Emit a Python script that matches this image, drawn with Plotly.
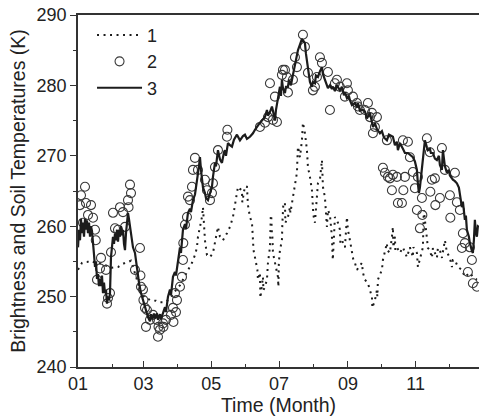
import plotly.graph_objects as go

# Day of year (0 = 1 January) and temperatures in K
day_1 = [0, 1.8, 3.6, 5.4, 8.1, 10.8, 13.5, 16.2, 18.9, 21.6, 24.3, 27.0, 30.6, 33.3, 36.0,
         38.7, 42.3, 45.0, 47.7, 53.1, 56.7, 60.3, 63.0, 64.8, 67.5, 70.2, 72.9, 75.6, 78.3,
         81.0, 83.7, 86.4, 89.1, 91.8, 94.5, 97.2, 99.0, 100.8, 102.6, 105.3, 107.1, 108.0,
         109.8, 111.6, 112.5, 114.3, 116.1, 118.8, 121.5, 123.3, 125.1, 126.0, 127.8, 130.5,
         134.1, 136.8, 139.5, 141.3, 143.1, 144.0, 145.8, 147.6, 147.9, 150.3, 152.1, 153.0,
         154.8, 156.6, 157.0, 157.5, 158.0, 159.3, 161.1, 161.5, 162.0, 163.8, 164.2, 165.6,
         166.5, 166.9, 168.3, 170.1, 171.0, 172.8, 173.2, 173.6, 174.0, 174.6, 175.0, 175.5,
         177.3, 179.1, 180.0, 180.4, 180.8, 181.8, 183.6, 184.0, 184.5, 184.9, 186.3, 186.7,
         189.0, 190.8, 191.2, 193.5, 195.3, 197.1, 197.5, 198.0, 199.8, 201.6, 202.5, 204.3,
         206.1, 207.0, 208.8, 210.6, 211.5, 211.9, 213.3, 215.1, 216.0, 217.8, 219.6, 220.5,
         222.3, 224.1, 225.0, 226.8, 228.6, 229.0, 229.4, 231.3, 234.0, 235.8, 236.2, 237.6,
         240.3, 242.1, 243.0, 244.8, 246.6, 247.5, 247.9, 249.3, 251.1, 255.6, 256.5, 258.3,
         261.0, 262.8, 264.6, 265.0, 267.3, 269.1, 269.5, 270.0, 273.6, 274.5, 276.3, 278.1,
         278.5, 280.8, 282.6, 283.5, 283.9, 285.3, 285.7, 287.1, 289.8, 292.5, 296.1, 298.8,
         301.5, 301.9, 305.1, 305.5, 306.0, 310.5, 310.9, 311.3, 314.1, 315.0, 316.8, 318.6,
         319.5, 323.1, 324.0, 325.8, 327.6, 330.3, 332.1, 334.8, 336.6, 337.5, 339.3, 342.0,
         345.6, 348.3, 352.8, 355.5, 359.1]
temp_1 = [253.8, 254.4, 254.8, 254.9, 254.9, 255.1, 254.9, 254.8, 254.8, 254.6, 254.5, 254.3,
          254.1, 254.1, 254.2, 254.5, 254.8, 254.9, 255.1, 252.4, 250.5, 249.8, 249.7, 249.5,
          249.5, 249.4, 249.2, 249.2, 249.2, 249.5, 249.9, 250.5, 251.2, 251.6, 252.4, 253.1,
          253.8, 254.3, 254.8, 255.9, 257.0, 258.5, 259.9, 261.3, 262.7, 258.0, 255.9, 255.6,
          256.2, 257.6, 259.0, 259.9, 258.5, 258.0, 259.0, 259.9, 261.3, 263.3, 265.1, 265.6,
          265.3, 265.1, 263.4, 265.7, 265.6, 263.0, 261.3, 260.5, 259.5, 257.6, 256.6, 255.6,
          254.2, 253.8, 252.4, 253.4, 249.8, 251.9, 252.8, 250.9, 251.4, 252.4, 254.8, 257.0,
          259.0, 261.6, 261.3, 258.8, 258.5, 256.2, 254.8, 253.8, 252.8, 251.4, 254.8, 256.6,
          258.0, 260.5, 261.9, 263.3, 263.3, 260.5, 261.3, 262.7, 261.9, 264.1, 266.1, 267.6,
          269.4, 271.3, 269.8, 272.2, 274.7, 273.2, 270.8, 268.4, 267.0, 265.1, 262.7, 261.6,
          260.5, 264.1, 266.1, 266.6, 269.4, 265.6, 264.1, 259.9, 262.3, 261.6, 258.5, 256.6,
          255.2, 261.3, 260.5, 259.5, 257.6, 258.0, 257.0, 261.3, 259.5, 258.0, 256.6, 255.6,
          255.2, 254.8, 253.8, 254.8, 253.4, 252.4, 251.9, 250.9, 250.0, 248.4, 249.5, 250.9,
          250.0, 252.4, 253.8, 255.2, 256.6, 257.6, 256.6, 256.2, 258.5, 259.9, 257.0, 258.5,
          256.6, 257.0, 256.2, 257.0, 255.6, 257.0, 255.6, 257.0, 256.2, 254.8, 254.2, 257.0,
          260.9, 262.3, 258.3, 256.9, 256.6, 255.5, 256.9, 255.5, 256.9, 256.6, 255.5, 258.0,
          256.3, 255.5, 254.2, 255.2, 255.2, 254.2, 253.8, 252.8, 253.4, 252.8, 252.4]

day_2 = [1.8, 2.7, 4.5, 6.3, 7.2, 9.0, 11.7, 13.5, 15.3, 16.0, 17.1, 19.8, 20.7, 25.2, 26.1,
         27.0, 28.8, 29.7, 31.5, 33.3, 36.0, 37.8, 40.5, 42.3, 45.0, 45.5, 46.8, 47.7, 51.3,
         55.8, 56.2, 56.7, 58.5, 58.9, 60.3, 61.2, 62.1, 64.8, 67.5, 71.1, 72.0, 72.5, 73.8,
         76.5, 76.9, 79.2, 83.7, 85.5, 85.9, 87.3, 88.2, 89.1, 91.8, 93.6, 94.5, 94.8, 96.3,
         98.1, 99.0, 100.8, 102.6, 103.5, 105.3, 108.0, 114.3, 116.1, 118.8, 120.6, 121.5,
         123.3, 126.0, 134.1, 134.5, 163.8, 168.3, 171.0, 172.8, 175.5, 177.3, 179.1, 183.6,
         184.5, 186.3, 188.1, 189.0, 193.5, 195.3, 197.1, 202.5, 204.3, 207.0, 211.5, 213.3,
         215.1, 217.8, 219.6, 225.0, 226.8, 231.3, 233.1, 235.8, 240.3, 242.1, 243.0, 247.5,
         251.1, 252.0, 253.8, 258.3, 261.0, 262.8, 264.6, 265.5, 267.3, 269.1, 278.1, 292.5,
         297.0, 298.8, 301.5, 314.1, 316.8, 327.6, 330.3, 339.3, 274.5, 276.3, 279.0, 280.8,
         282.6, 283.5, 287.1, 288.0, 291.6, 292.9, 294.3, 303.3, 305.1, 306.0, 307.8, 309.6,
         310.0, 317.2, 318.6, 321.3, 321.7, 325.8, 334.8, 335.2, 341.1, 343.8, 345.6, 346.5,
         348.3, 351.0, 352.8, 354.6, 355.5, 359.1]
temp_2 = [263.0, 264.4, 260.5, 265.6, 263.3, 261.6, 263.0, 261.2, 259.5, 258.0, 252.4, 254.0,
          255.5, 253.8, 249.0, 249.8, 250.5, 256.3, 261.9, 259.7, 259.5, 262.7, 262.0, 259.9,
          263.7, 262.7, 265.9, 264.7, 253.8, 256.9, 253.0, 251.4, 251.0, 249.5, 248.4, 245.7,
          248.1, 246.7, 247.4, 246.7, 244.3, 245.7, 245.3, 246.2, 245.7, 246.7, 247.4, 248.4,
          246.4, 250.5, 247.8, 249.5, 251.4, 252.8, 255.2, 257.6, 260.2, 261.3, 264.2, 263.7,
          265.6, 268.0, 269.7, 268.0, 266.6, 265.1, 263.7, 264.7, 266.1, 268.4, 270.8, 272.7,
          273.7, 274.1, 274.7, 275.5, 280.3, 275.1, 278.4, 274.8, 281.5, 282.2, 282.2, 281.2,
          279.0, 280.8, 284.0, 282.6, 287.2, 285.5, 281.8, 279.3, 279.8, 281.2, 284.0, 283.2,
          281.9, 276.5, 280.3, 280.8, 279.8, 278.4, 280.3, 279.3, 278.4, 277.5, 277.0, 276.5,
          276.5, 277.5, 275.5, 276.1, 273.2, 274.1, 275.5, 272.2, 272.2, 272.0, 269.8, 267.7,
          272.5, 270.5, 271.1, 268.0, 267.6, 268.3, 267.6, 267.0, 266.8, 265.1, 267.3, 267.0,
          263.3, 263.3, 265.1, 267.0, 265.4, 262.3, 267.0, 259.7, 264.0, 261.6, 264.9, 266.6,
          266.8, 263.0, 264.0, 264.4, 261.2, 263.4, 262.3, 256.9, 259.0, 257.6, 253.5, 257.0,
          255.2, 251.9, 251.4]

day_3 = [0, 0.9, 1.8, 2.7, 3.6, 4.5, 5.4, 6.3, 7.2, 8.1, 9.0, 9.9, 10.8, 11.7, 12.6, 13.5,
         14.4, 15.3, 16.2, 17.1, 18.0, 18.9, 19.8, 20.7, 21.6, 22.5, 23.4, 24.3, 25.2, 26.1,
         27.0, 27.9, 28.8, 29.7, 30.6, 31.5, 32.4, 33.3, 34.2, 35.1, 36.0, 36.9, 37.8, 38.7,
         39.6, 40.5, 41.4, 42.3, 43.2, 44.1, 45.0, 45.9, 46.8, 47.7, 49.5, 51.3, 52.2, 54.0,
         54.9, 56.7, 58.5, 60.3, 62.1, 63.0, 64.8, 65.7, 66.6, 68.4, 69.3, 71.1, 72.0, 73.8,
         74.7, 76.5, 78.3, 79.2, 81.0, 82.8, 83.7, 85.5, 87.3, 88.2, 90.0, 91.8, 92.7, 94.5,
         96.3, 97.2, 99.0, 100.8, 101.7, 103.5, 105.3, 107.1, 108.0, 108.9, 109.8, 110.7,
         111.6, 112.5, 114.3, 115.2, 117.0, 118.8, 120.6, 121.5, 123.3, 124.2, 126.0, 127.8,
         129.6, 131.4, 132.3, 133.2, 135.0, 136.8, 138.6, 140.4, 143.1, 145.8, 148.5, 150.3,
         152.1, 154.8, 157.5, 159.3, 162.0, 163.8, 165.6, 168.3, 170.1, 171.0, 172.8, 174.6,
         175.5, 177.3, 178.2, 180.0, 181.8, 182.7, 183.6, 184.5, 186.3, 187.2, 189.0, 189.9,
         191.7, 193.5, 195.3, 197.1, 198.0, 199.8, 201.6, 203.4, 204.3, 205.2, 206.1, 207.9,
         208.8, 210.6, 211.5, 213.3, 214.2, 216.0, 217.8, 219.6, 220.5, 222.3, 224.1, 225.0,
         226.8, 228.6, 229.5, 231.3, 233.1, 234.0, 235.8, 237.6, 239.4, 240.3, 242.1, 243.9,
         244.8, 246.6, 249.3, 251.1, 252.0, 253.8, 256.5, 258.3, 260.1, 262.8, 264.6, 265.5,
         267.3, 269.1, 271.8, 273.6, 275.4, 278.1, 279.9, 281.7, 283.5, 285.3, 287.1, 288.0,
         289.8, 292.5, 294.3, 297.0, 298.8, 301.5, 303.3, 305.1, 306.0, 306.9, 307.8, 308.7,
         309.6, 311.4, 312.3, 314.1, 315.0, 316.8, 317.7, 319.5, 321.3, 323.1, 324.9, 325.8,
         327.6, 328.5, 330.3, 332.1, 333.9, 334.8, 336.6, 337.5, 339.3, 341.1, 342.9, 343.8,
         345.6, 346.5, 348.3, 349.2, 350.1, 351.9, 352.8, 354.6, 355.5, 356.4, 357.3, 358.2,
         359.1, 360.0, 360.9]
temp_3 = [257.0, 259.5, 258.0, 261.0, 259.0, 260.5, 258.5, 261.0, 259.5, 260.8, 259.0, 260.5,
          258.5, 260.0, 259.3, 258.0, 256.0, 254.2, 255.0, 252.5, 253.2, 251.5, 252.5, 251.5,
          253.0, 250.5, 252.0, 250.5, 251.0, 249.0, 250.0, 249.5, 250.5, 255.6, 257.0, 258.5,
          257.5, 259.0, 258.0, 259.5, 257.8, 259.5, 258.5, 260.0, 258.7, 259.5, 257.5, 256.6,
          259.0, 260.5, 261.9, 261.0, 260.0, 258.5, 257.0, 256.2, 255.0, 253.4, 252.0, 250.5,
          249.5, 248.5, 247.5, 247.1, 246.5, 247.5, 246.8, 247.6, 246.9, 247.6, 246.7, 247.5,
          246.8, 247.7, 248.5, 247.8, 250.0, 251.0, 250.2, 252.8, 253.5, 253.0, 255.2, 257.0,
          256.2, 259.5, 260.3, 259.6, 261.9, 262.5, 262.0, 263.7, 264.5, 266.1, 267.5, 268.5,
          269.8, 268.0, 266.6, 265.5, 264.7, 264.0, 263.7, 264.5, 265.6, 267.0, 269.0, 268.5,
          270.8, 269.5, 269.0, 270.5, 270.8, 270.0, 271.8, 271.5, 271.3, 272.3, 273.0, 272.2,
          272.8, 273.0, 272.4, 272.7, 273.2, 273.7, 274.4, 274.7, 275.0, 275.5, 276.5, 275.7,
          276.2, 277.0, 276.4, 275.0, 276.5, 277.9, 279.8, 278.5, 280.8, 279.6, 278.9, 279.8,
          279.8, 280.8, 280.0, 281.5, 283.0, 284.0, 285.0, 285.8, 286.6, 286.2, 286.0, 284.5,
          283.2, 281.5, 280.5, 279.8, 280.5, 280.3, 281.4, 281.2, 282.0, 282.6, 281.6, 280.8,
          280.3, 279.6, 280.0, 279.5, 279.8, 279.2, 280.0, 279.8, 279.3, 279.8, 278.6, 279.0,
          278.2, 278.5, 277.9, 277.2, 277.5, 276.9, 277.5, 276.4, 276.5, 276.3, 275.3, 276.1,
          275.0, 274.1, 274.6, 273.8, 273.2, 273.5, 272.6, 272.2, 273.0, 272.8, 272.7, 271.5,
          272.0, 270.8, 271.8, 271.0, 270.4, 270.4, 270.1, 269.8, 269.2, 268.0, 266.0, 264.7,
          265.5, 267.0, 268.0, 271.0, 272.2, 271.2, 270.8, 271.0, 270.4, 270.4, 269.6, 269.4,
          270.0, 268.7, 268.0, 270.8, 268.5, 267.6, 268.0, 267.2, 266.8, 266.6, 266.4, 266.1,
          265.5, 264.7, 262.7, 263.5, 260.9, 261.5, 259.5, 258.5, 257.6, 256.5, 256.2, 258.0,
          260.9, 259.0, 258.5, 260.0, 259.9]

month_tick_days = [0, 59, 120, 181, 243, 304]
month_tick_text = ["01", "03", "05", "07", "09", "11"]
minor_tick_days = [31, 90, 151, 212, 273, 334]

INK = "#1c1c1c"
FONT = "Liberation Sans, Arial, sans-serif"

fig = go.Figure()
fig.add_trace(go.Scatter(
    x=day_1, y=temp_1, mode="lines", name="1",
    line=dict(color=INK, width=2, dash="2px,4.5px"),
))
fig.add_trace(go.Scatter(
    x=day_2, y=temp_2, mode="markers", name="2",
    marker=dict(symbol="circle-open", size=9, color="#3a3a3a", line=dict(width=1.1, color="#3a3a3a")),
))
fig.add_trace(go.Scatter(
    x=day_3, y=temp_3, mode="lines", name="3",
    line=dict(color=INK, width=2.2),
))

fig.update_layout(
    width=479, height=420,
    margin=dict(l=78, r=0, t=15, b=53),
    paper_bgcolor="white", plot_bgcolor="white",
    font=dict(family=FONT, size=18, color="#222"),
    showlegend=True,
    legend=dict(x=0.035, y=0.995, xanchor="left", yanchor="top",
                bgcolor="rgba(0,0,0,0)", font=dict(size=18),
                itemwidth=45, tracegroupgap=0),
)
fig.update_xaxes(
    range=[0, 361], showgrid=False, zeroline=False,
    showline=True, linecolor="#333", linewidth=1.5, mirror=True,
    tickmode="array", tickvals=month_tick_days, ticktext=month_tick_text,
    ticks="inside", ticklen=6, tickwidth=1.2, tickcolor="#333",
    minor=dict(tickvals=minor_tick_days, ticks="inside", ticklen=3, tickcolor="#333"),
    tickfont=dict(size=18),
    title=dict(text="Time (Month)", font=dict(size=19.5), standoff=4),
)
fig.update_yaxes(
    range=[240, 290], showgrid=False, zeroline=False,
    showline=True, linecolor="#333", linewidth=1.5,
    tickmode="linear", tick0=240, dtick=10,
    ticks="outside", ticklen=6, tickwidth=1.2, tickcolor="#333",
    minor=dict(dtick=5, ticks="outside", ticklen=3, tickcolor="#333"),
    tickfont=dict(size=18),
    title=dict(text="Brightness and Soil Temperatures (K)", font=dict(size=19.5), standoff=6),
)

fig.write_html("out.html")
